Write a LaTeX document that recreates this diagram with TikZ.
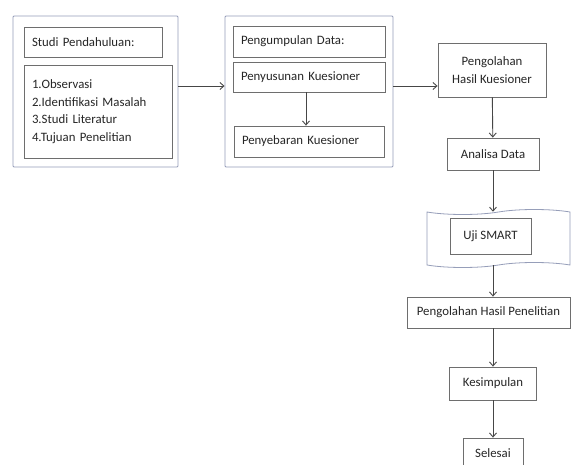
\documentclass[tikz,border=0pt]{standalone}
\usepackage{fontspec}
\setmainfont{Carlito}
\usetikzlibrary{arrows.meta,shapes.symbols}
\definecolor{outline}{RGB}{150,158,185}
\definecolor{boxgray}{RGB}{110,110,110}
\definecolor{arrowgray}{RGB}{70,70,70}
\begin{document}
\begin{tikzpicture}[
  x=1pt, y=-1pt,
  every node/.style={font=\fontsize{12.8}{17.5}\selectfont, text=black!85},
  frame/.style={draw=outline, line width=0.9pt, rounded corners=1pt},
  inbox/.style={draw=boxgray, line width=0.8pt, inner xsep=8pt, align=left},
  stepbox/.style={draw=boxgray, line width=0.8pt, align=center},
  arrow/.style={-{Straight Barb[length=4pt,width=7pt]}, draw=arrowgray, line width=0.9pt}
]
\fill[white] (0,0) rectangle (571,465);
\useasboundingbox (0,0) rectangle (571,465);
% studi pendahuluan
\node[frame, minimum width=165, minimum height=151] (studi) at (95.5,91.5) {};
\node[inbox, text width=122pt, minimum height=30] (studititle) at (93,42) {Studi Pendahuluan:};
\node[inbox, text width=132pt, minimum height=93] (studilist) at (98,111.5) {1.Observasi\\2.Identifikasi Masalah\\3.Studi Literatur\\4.Tujuan Penelitian};
% pengumpulan data
\node[frame, minimum width=168, minimum height=151] (data) at (309,91.5) {};
\node[inbox, text width=136pt, minimum height=31] (datatitle) at (309,41.5) {Pengumpulan Data:};
\node[inbox, text width=136pt, minimum height=30] (susun) at (309,77) {Penyusunan Kuesioner};
\node[inbox, text width=134pt, minimum height=31] (sebar) at (309,141.5) {Penyebaran Kuesioner};
% alur kanan
\node[stepbox, minimum width=108, minimum height=54] (olah) at (492,70) {Pengolahan\\Hasil Kuesioner};
\node[stepbox, minimum width=92, minimum height=32] (analisa) at (493,154) {Analisa Data};
\node[tape, draw=outline, line width=0.8pt, minimum width=143, minimum height=58, tape bend height=5pt] (ujitape) at (498.5,238.5) {};
\node[stepbox, minimum width=81, minimum height=36] (uji) at (490.5,236) {Uji SMART};
\node[stepbox, minimum width=163, minimum height=31, inner xsep=2pt] (hasil) at (488.5,312.5) {Pengolahan Hasil Penelitian};
\node[stepbox, minimum width=87, minimum height=33] (kesimpulan) at (493,383.5) {Kesimpulan};
\node[stepbox, minimum width=60, minimum height=30] (selesai) at (493,453) {Selesai};
\draw[arrow] ([yshift=5.5pt]studi.east) -- ([yshift=5.5pt]data.west);
\draw[arrow] ([yshift=5.5pt]data.east) -- ([yshift=-16pt]olah.west);
\draw[arrow] (susun.south -| 306,0) -- (sebar.north -| 306,0);
\draw[arrow] (olah) -- (analisa);
\draw[arrow] (analisa.south) -- (analisa.south |- ujitape.north);
\draw[arrow] (analisa.south |- ujitape.south) -- (analisa.south |- hasil.north);
\draw[arrow] (analisa.south |- hasil.south) -- (kesimpulan.north);
\draw[arrow] (kesimpulan) -- (selesai);
\end{tikzpicture}
\end{document}
